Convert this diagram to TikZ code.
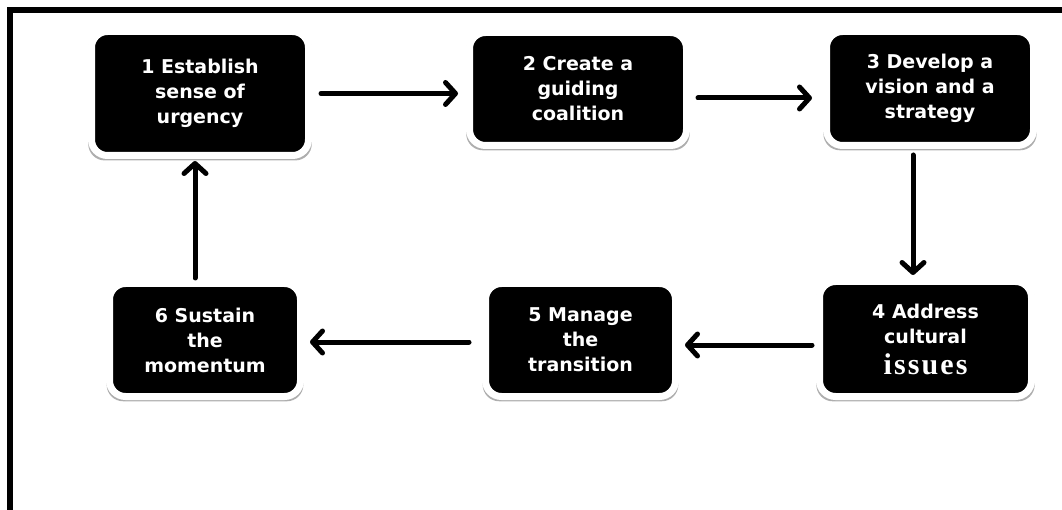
\documentclass[tikz,border=0pt]{standalone}
\usepackage{fontspec}
\setmainfont{DejaVu Sans}
\newfontfamily\issuefont[LetterSpace=7]{Liberation Serif}
\usetikzlibrary{arrows.meta,shadows}
\begin{document}
\begin{tikzpicture}[x=1pt,y=-1pt,
    stepbox/.style={fill=black,draw=white,line width=7pt,rounded corners=16pt,
      text=white,font=\bfseries\fontsize{19}{25}\selectfont,align=center,inner sep=0pt,
      drop shadow={shadow xshift=0pt,shadow yshift=-3pt,shadow scale=1.03,fill=black!45,opacity=0.7}},
    flow/.style={line width=5pt,line cap=round,
      -{Straight Barb[length=10pt,width=22pt,round]}}]
  \useasboundingbox (0,0) rectangle (1062,510);
  \draw[line width=6pt] (1062,10) -- (10,10) -- (10,510);
  \draw
    (200,93.5) node[stepbox,minimum width=217pt,minimum height=124pt] (urgency) {1 Establish\\sense of\\urgency}
    (578,89) node[stepbox,minimum width=217pt,minimum height=113pt] (coalition) {2 Create a\\guiding\\coalition}
    (930,88.5) node[stepbox,minimum width=207pt,minimum height=114pt] (vision) {3 Develop a\\vision and a\\strategy}
    (925.5,339) node[stepbox,minimum width=212pt,minimum height=115pt] (culture) {4 Address\\cultural\\[6pt]{\issuefont\fontsize{30}{31}\selectfont issues}}
    (580.5,340) node[stepbox,minimum width=190pt,minimum height=113pt] (transition) {5 Manage\\the\\transition}
    (205,340) node[stepbox,minimum width=191pt,minimum height=113pt] (momentum) {6 Sustain\\the\\momentum};
  \begin{scope}[flow]
    \draw[shorten <=9pt,shorten >=8pt] (urgency.east) -- (urgency.east -| coalition.west);
    \draw[shorten <=8pt,shorten >=11pt] ([yshift=-9pt]coalition.east) -- ([yshift=-9pt]coalition.east -| vision.west);
    \draw[shorten <=6pt,shorten >=3pt] ([xshift=-17pt]vision.south) -- ([xshift=-17pt]vision.south |- culture.north);
    \draw[shorten <=4pt,shorten >=6pt] ([yshift=-6pt]culture.west) -- ([yshift=-6pt]culture.west -| transition.east);
    \draw[shorten <=13pt,shorten >=6pt] ([yshift=-2pt]transition.west) -- ([yshift=-2pt]transition.west -| momentum.east);
    \draw[shorten <=2pt,shorten >=2pt] ([xshift=-10pt]momentum.north) -- ([xshift=-10pt]momentum.north |- urgency.south);
  \end{scope}
\end{tikzpicture}
\end{document}
